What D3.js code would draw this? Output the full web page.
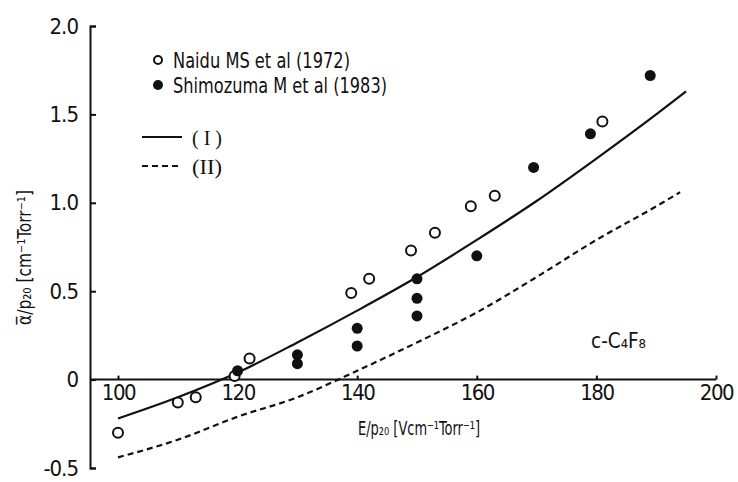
<!DOCTYPE html>
<html>
<head>
<meta charset="utf-8">
<script src="https://cdn.jsdelivr.net/npm/d3@7"></script>
<style>
  body { margin: 0; background: #fff; }
  svg text { font-family: "DejaVu Sans", sans-serif; font-stretch: condensed; fill: #111; }
</style>
</head>
<body>
<div id="chart"></div>
<script>
// Data
var naiduE     = [100, 110, 113, 119.5, 122, 139, 142, 149, 153, 159, 163, 181];
var naiduAlpha = [-0.30, -0.13, -0.10, 0.02, 0.12, 0.49, 0.57, 0.73, 0.83, 0.98, 1.04, 1.46];

var shimE     = [120, 130, 130, 140, 140, 150, 150, 150, 160, 169.5, 179, 189];
var shimAlpha = [0.05, 0.14, 0.09, 0.29, 0.19, 0.57, 0.46, 0.36, 0.70, 1.20, 1.39, 1.72];

var curve1E = [100, 110, 120, 130, 140, 150, 160, 170, 180, 190, 195];
var curve1A = [-0.22, -0.10, 0.04, 0.21, 0.39, 0.58, 0.79, 1.01, 1.25, 1.50, 1.63];

var curve2E = [100, 110, 120, 130, 140, 150, 160, 170, 180, 190, 194];
var curve2A = [-0.44, -0.34, -0.21, -0.10, 0.05, 0.21, 0.38, 0.58, 0.79, 0.98, 1.06];

var xTickValues = [100, 120, 140, 160, 180, 200];
var yTickValues = [-0.5, 0, 0.5, 1.0, 1.5, 2.0];
var yTickLabels = ["-0.5", "0", "0.5", "1.0", "1.5", "2.0"];

var svgWidth = 738;
var svgHeight = 482;
var axisLeftX = 90;

var svg = d3.select("#chart")
  .append("svg")
  .attr("width", svgWidth)
  .attr("height", svgHeight);

// Scales
var x = d3.scaleLinear().domain([100, 200]).range([118, 716]);
var y = d3.scaleLinear().domain([-0.5, 2.0]).range([468, 26]);

// Y axis (ticks pointing inward)
var yAxis = d3.axisLeft(y)
  .tickValues(yTickValues)
  .tickFormat(function (d, i) { return yTickLabels[i]; })
  .tickSizeInner(-6)
  .tickSizeOuter(-6)
  .tickPadding(12);

var gy = svg.append("g")
  .attr("transform", "translate(" + axisLeftX + ",0)")
  .call(yAxis);
gy.selectAll("path, line").attr("stroke", "#111").attr("stroke-width", 2);
gy.selectAll("text").attr("font-size", 22).attr("letter-spacing", -1).style("font-family", null);

// X axis at y = 0
var xAxis = d3.axisBottom(x)
  .tickValues(xTickValues)
  .tickFormat(d3.format("d"))
  .tickSizeInner(-4)
  .tickSizeOuter(0)
  .tickPadding(5);

var gx = svg.append("g")
  .attr("transform", "translate(0," + y(0) + ")")
  .call(xAxis);
gx.select(".domain").remove();
gx.append("line")
  .attr("x1", axisLeftX)
  .attr("x2", x(200))
  .attr("stroke", "#111")
  .attr("stroke-width", 2);
gx.selectAll("line").attr("stroke", "#111").attr("stroke-width", 2);
gx.selectAll("text").attr("font-size", 22).attr("letter-spacing", -1.5).style("font-family", null);

// Curves
var line = d3.line()
  .x(function (d) { return x(d[0]); })
  .y(function (d) { return y(d[1]); })
  .curve(d3.curveMonotoneX);

svg.append("path")
  .datum(d3.zip(curve1E, curve1A))
  .attr("d", line)
  .attr("fill", "none")
  .attr("stroke", "#111")
  .attr("stroke-width", 2.2);

svg.append("path")
  .datum(d3.zip(curve2E, curve2A))
  .attr("d", line)
  .attr("fill", "none")
  .attr("stroke", "#111")
  .attr("stroke-width", 2.2)
  .attr("stroke-dasharray", "6,4");

// Points
svg.selectAll("circle.naidu")
  .data(d3.zip(naiduE, naiduAlpha))
  .enter()
  .append("circle")
  .attr("class", "naidu")
  .attr("cx", function (d) { return x(d[0]); })
  .attr("cy", function (d) { return y(d[1]); })
  .attr("r", 5)
  .attr("fill", "#fff")
  .attr("stroke", "#111")
  .attr("stroke-width", 2);

svg.selectAll("circle.shim")
  .data(d3.zip(shimE, shimAlpha))
  .enter()
  .append("circle")
  .attr("class", "shim")
  .attr("cx", function (d) { return x(d[0]); })
  .attr("cy", function (d) { return y(d[1]); })
  .attr("r", 5.5)
  .attr("fill", "#111");

// Legend
var legend = svg.append("g");
legend.append("circle").attr("cx", 158).attr("cy", 60).attr("r", 4)
  .attr("fill", "#fff").attr("stroke", "#111").attr("stroke-width", 2);
legend.append("text").attr("x", 173).attr("y", 68).attr("font-size", 21)
  .attr("textLength", 177).attr("lengthAdjust", "spacingAndGlyphs")
  .text("Naidu MS  et al (1972)");
legend.append("circle").attr("cx", 158).attr("cy", 85).attr("r", 5)
  .attr("fill", "#111");
legend.append("text").attr("x", 173).attr("y", 93).attr("font-size", 21)
  .attr("textLength", 214).attr("lengthAdjust", "spacingAndGlyphs")
  .text("Shimozuma M et al (1983)");

legend.append("line").attr("x1", 142).attr("x2", 182).attr("y1", 137).attr("y2", 137)
  .attr("stroke", "#111").attr("stroke-width", 2);
legend.append("text").attr("x", 192).attr("y", 145).attr("font-size", 20)
  .style("font-family", "'Liberation Serif', serif")
  .attr("textLength", 30).attr("lengthAdjust", "spacing")
  .text("(I)");
legend.append("line").attr("x1", 142).attr("x2", 182).attr("y1", 166).attr("y2", 166)
  .attr("stroke", "#111").attr("stroke-width", 2.2).attr("stroke-dasharray", "6,4");
legend.append("text").attr("x", 192).attr("y", 174).attr("font-size", 20)
  .style("font-family", "'Liberation Serif', serif")
  .attr("textLength", 30).attr("lengthAdjust", "spacingAndGlyphs")
  .text("(II)");

// Annotation
svg.append("text").attr("x", 591).attr("y", 348).attr("font-size", 21)
  .attr("textLength", 55).attr("lengthAdjust", "spacingAndGlyphs")
  .text("c-C₄F₈");

// X axis label
svg.append("text").attr("x", 358).attr("y", 435).attr("font-size", 19)
  .attr("textLength", 122).attr("lengthAdjust", "spacingAndGlyphs")
  .text("E/p₂₀ [Vcm⁻¹Torr⁻¹]");

// Y axis label
svg.append("text")
  .attr("transform", "translate(31,325) rotate(-90)")
  .attr("font-size", 19)
  .attr("textLength", 135).attr("lengthAdjust", "spacingAndGlyphs")
  .text("α̅/p₂₀ [cm⁻¹Torr⁻¹]");
</script>
</body>
</html>
